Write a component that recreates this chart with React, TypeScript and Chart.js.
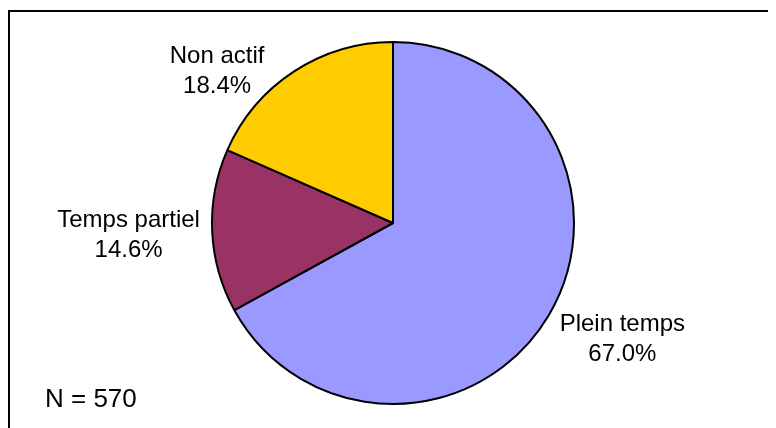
import React, { useEffect, useRef } from "react";
import { Chart, registerables } from "chart.js";

Chart.register(...registerables);

const categories = ["Plein temps", "Temps partiel", "Non actif"];
const shares = [67.0, 14.6, 18.4];
const sliceColors = ["#9999FF", "#993366", "#FFCC00"];
const sampleNote = "N = 570";

// label block centre offsets, in units of the pie radius, relative to pie centre
const labelOffsets = [
  [1.267, 0.633],
  [-1.461, 0.061],
  [-0.972, -0.844],
];

const FONT = '"Liberation Sans", Arial, sans-serif';

const decorPlugin = {
  id: "decor",
  beforeDraw(chart: any) {
    const ctx = chart.ctx;
    ctx.save();
    ctx.fillStyle = "#ffffff";
    ctx.fillRect(0, 0, chart.width, chart.height);
    ctx.fillStyle = "#000000";
    ctx.fillRect(0, 2, chart.width, 2);
    ctx.fillRect(0, 2, 2, chart.height);
    ctx.restore();
  },
  afterDraw(chart: any) {
    const ctx = chart.ctx;
    const meta = chart.getDatasetMeta(0);
    const ds = chart.data.datasets[0];
    ctx.save();
    ctx.fillStyle = "#000000";
    ctx.textAlign = "center";
    ctx.textBaseline = "alphabetic";
    ctx.font = `24px ${FONT}`;
    meta.data.forEach((arc: any, i: number) => {
      const r = arc.outerRadius;
      const cx = arc.x + labelOffsets[i][0] * r;
      const cy = arc.y + labelOffsets[i][1] * r;
      ctx.fillText(String(chart.data.labels[i]), cx, cy - 7);
      ctx.fillText(`${Number(ds.data[i]).toFixed(1)}%`, cx, cy + 23);
    });
    ctx.font = `26px ${FONT}`;
    ctx.textAlign = "left";
    ctx.fillText(sampleNote, 37, 399);
    ctx.restore();
  },
};

export default function App() {
  const ref = useRef<HTMLCanvasElement | null>(null);
  useEffect(() => {
    if (!ref.current) return;
    const chart = new Chart(ref.current, {
      type: "pie",
      data: {
        labels: categories,
        datasets: [
          {
            data: shares,
            backgroundColor: sliceColors,
            borderColor: "#000000",
            borderWidth: 2,
          },
        ],
      },
      options: {
        animation: false,
        responsive: false,
        maintainAspectRatio: false,
        events: [],
        layout: { padding: { left: 203, right: 201, top: 33, bottom: 23 } },
        plugins: {
          legend: { display: false },
          tooltip: { enabled: false },
          title: { display: false },
        },
      },
      plugins: [decorPlugin],
    });
    return () => chart.destroy();
  }, []);
  return (
    <div style={{ width: 768, height: 420 }}>
      <style>{"#root{width:768px;} body{overflow:hidden;}"}</style>
      <canvas ref={ref} width={768} height={420} style={{ display: "block" }} />
    </div>
  );
}
